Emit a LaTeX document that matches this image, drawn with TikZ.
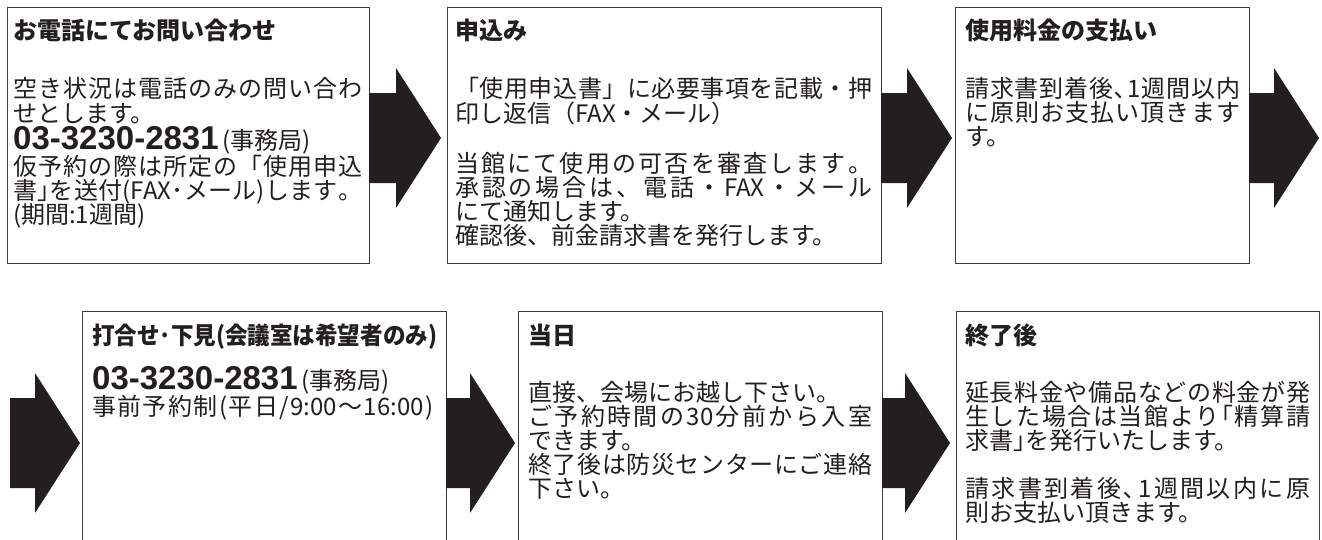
\documentclass[tikz,border=0pt]{standalone}
\usepackage{fontspec}
\usepackage{graphicx}
\setmainfont{Noto Sans CJK JP}
\newfontfamily\phonefont{Liberation Sans}
\usetikzlibrary{calc}
\definecolor{ink}{HTML}{231F20}
\definecolor{framec}{HTML}{3C3C3C}
\def\sprstop{sprstopmarker}
\def\sprtext#1{\sprA#1\sprstop}
\def\sprA#1{#1\sprB}
\def\sprB#1{\ifx\sprstop#1\else\hfil#1\expandafter\sprB\fi}
\newcommand\spr[2]{\hbox to #1pt{\sprtext{#2}}}
\newcommand\phone{{\phonefont\bfseries\fontsize{33}{33}\selectfont 03-3230-2831}\hspace{4pt}(事務局)}
\newcommand\blockarrow[2]{%
  \fill[arrowfill] let \p1=(#1), \p2=(#2) in
    (\x1,\y2+45pt) -- (\x2-45pt,\y2+45pt) -- (\x2-45pt,\y2+70pt) -- (\x2,\y2)
    -- (\x2-45pt,\y2-70pt) -- (\x2-45pt,\y2-45pt) -- (\x1,\y2-45pt) -- cycle;}
\begin{document}
\begin{tikzpicture}[x=1pt,y=-1pt,
  box/.style={draw=framec,line width=1.3pt,fill=white,anchor=north west,inner sep=0pt},
  arrowfill/.style={fill=ink},
  txt/.style={anchor=base west,inner sep=0pt,text=ink,font=\fontsize{24}{24}\selectfont},
  ttl/.style={txt,font=\fontsize{24}{24}\selectfont\bfseries}]
\useasboundingbox (0,0) rectangle (1322,539);
\clip (0,0) rectangle (1322,539);
\fill[white] (0,0) rectangle (1322,539);
% boxes
\node[box,minimum width=362pt,minimum height=256pt] (b1) at (7,7) {};
\node[box,minimum width=434pt,minimum height=256pt] (b2) at (447,7) {};
\node[box,minimum width=294pt,minimum height=256pt] (b3) at (955,7) {};
\node[box,minimum width=364pt,minimum height=260pt] (b4) at (82,311) {};
\node[box,minimum width=364pt,minimum height=260pt] (b5) at (518,311) {};
\node[box,minimum width=363pt,minimum height=260pt] (b6) at (956,311) {};
% arrows
\coordinate (a1s) at (369,138); \coordinate (a1t) at (441,138);
\coordinate (a2s) at (881,138); \coordinate (a2t) at (952,138);
\coordinate (a3s) at (1249,138); \coordinate (a3t) at (1319,138);
\coordinate (a4s) at (10,443); \coordinate (a4t) at (80,443);
\coordinate (a5s) at (446,443); \coordinate (a5t) at (515,443);
\coordinate (a6s) at (882,443); \coordinate (a6t) at (950,443);
\blockarrow{a1s}{a1t}
\blockarrow{a2s}{a2t}
\blockarrow{a3s}{a3t}
\blockarrow{a4s}{a4t}
\blockarrow{a5s}{a5t}
\blockarrow{a6s}{a6t}
% box 1
\node[ttl] (b1t) at (13,39) {お電話にてお問い合わせ};
\node[txt] (b1a) at (13,97) {\spr{349}{空き状況は電話のみの問い合わ}};
\node[txt] (b1b) at (13,122) {せとします。};
\node[txt] (b1c) at (13,149) {\phone};
\node[txt] (b1d) at (13,175) {\spr{349}{仮予約の際は所定の「使用申込}};
\node[txt] (b1e) at (13,199) {\spr{349}{書｣を送付({FAX}･メール)します。}};
\node[txt] (b1f) at (13,223) {(期間:1週間)};
% box 2
\node[ttl] (b2t) at (455,39) {申込み};
\node[txt] (b2a) at (455,97) {\spr{417}{「使用申込書」に必要事項を記載・押}};
\node[txt] (b2b) at (455,122) {印し返信（FAX・メール）};
\node[txt] (b2c) at (455,172) {\spr{417}{当館にて使用の可否を審査します。}};
\node[txt] (b2d) at (455,196) {\spr{417}{承認の場合は、電話・{FAX}・メール}};
\node[txt] (b2e) at (455,220) {にて通知します。};
\node[txt] (b2f) at (455,244) {確認後、前金請求書を発行します。};
% box 3
\node[ttl] (b3t) at (965,39) {使用料金の支払い};
\node[txt] (b3a) at (965,97) {\spr{275}{請求書到着後､1週間以内}};
\node[txt] (b3b) at (965,121) {\spr{275}{に原則お支払い頂きます}};
\node[txt] (b3c) at (965,145) {す。};
% box 4
\node[ttl] (b4t) at (92,344) {\resizebox{345pt}{\height}{打合せ･下見(会議室は希望者のみ)}};
\node[txt] (b4a) at (92,389) {\phone};
\node[txt] (b4b) at (92,415) {\spr{341}{事前予約制(平日/{9:00}〜{16:00})}};
% box 5
\node[ttl] (b5t) at (528,344) {当日};
\node[txt] (b5a) at (528,401) {直接、会場にお越し下さい。};
\node[txt] (b5b) at (528,425) {\spr{344}{ご予約時間の{30}分前から入室}};
\node[txt] (b5c) at (528,449) {できます。};
\node[txt] (b5d) at (528,473) {\spr{344}{終了後は防災センターにご連絡}};
\node[txt] (b5e) at (528,497) {下さい。};
% box 6
\node[ttl] (b6t) at (965,344) {終了後};
\node[txt] (b6a) at (965,401) {\spr{345}{延長料金や備品などの料金が発}};
\node[txt] (b6b) at (965,425) {\spr{345}{生した場合は当館より｢精算請}};
\node[txt] (b6c) at (965,449) {求書｣を発行いたします。};
\node[txt] (b6d) at (965,497) {\spr{345}{請求書到着後､1週間以内に原}};
\node[txt] (b6e) at (965,521) {則お支払い頂きます。};
\end{tikzpicture}
\end{document}
